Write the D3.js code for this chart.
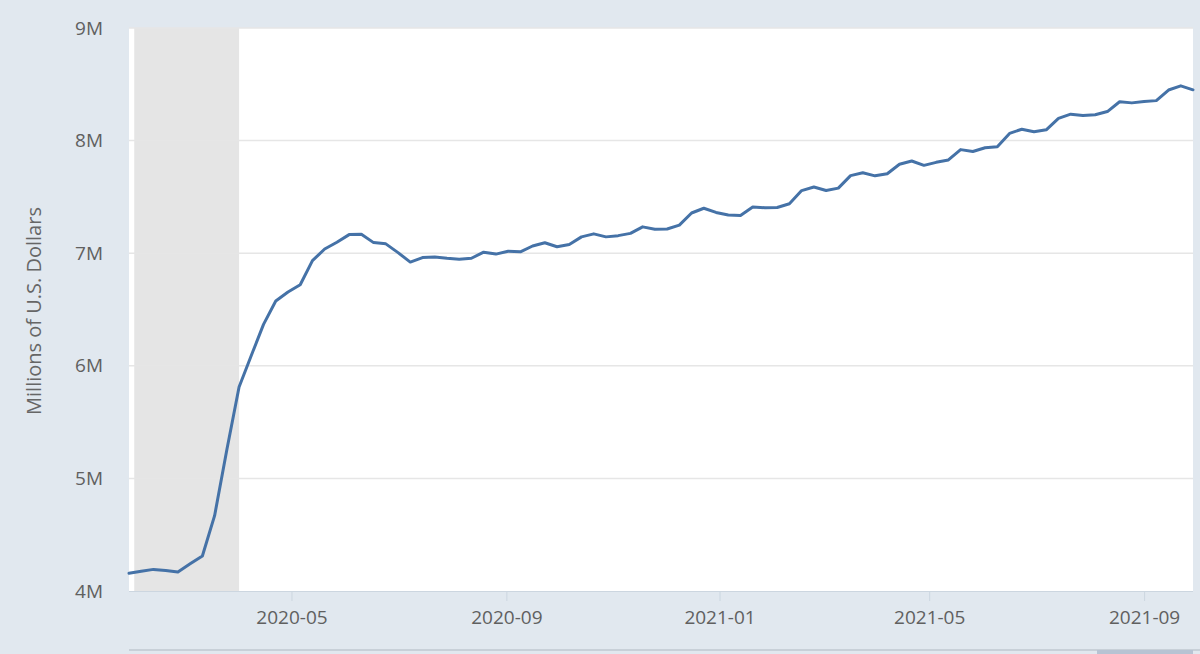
<!DOCTYPE html>
<html>
<head>
<meta charset="utf-8">
<script src="https://cdn.jsdelivr.net/npm/d3@7"></script>
<style>
  html, body { margin: 0; padding: 0; background: #e1e8ef; }
  svg { display: block; }
  text { font-family: "Open Sans", "Noto Sans", sans-serif; }
</style>
</head>
<body>
<svg id="chart" width="1200" height="654"></svg>
<script>
// Weekly dates (Wednesdays) and values, millions of U.S. dollars
const startDate = "2020-01-29";
const values = [
  4158000, 4176000, 4192000, 4183000, 4168000, 4241000, 4311000, 4669000, 5254000, 5811000,
  6092000, 6368000, 6575000, 6655000, 6720000, 6934000, 7037000, 7097000, 7165000, 7169000,
  7094000, 7083000, 7005000, 6921000, 6961000, 6967000, 6955000, 6947000, 6955000, 7009000,
  6992000, 7017000, 7012000, 7064000, 7093000, 7057000, 7078000, 7145000, 7172000, 7145000,
  7156000, 7176000, 7234000, 7213000, 7215000, 7249000, 7357000, 7399000, 7362000, 7339000,
  7335000, 7410000, 7404000, 7406000, 7439000, 7556000, 7588000, 7557000, 7578000, 7689000,
  7714000, 7687000, 7706000, 7790000, 7819000, 7780000, 7807000, 7828000, 7920000, 7903000,
  7936000, 7946000, 8064000, 8101000, 8078000, 8096000, 8198000, 8235000, 8223000, 8229000,
  8258000, 8345000, 8335000, 8348000, 8355000, 8449000, 8486000, 8451000
];
const recessionStart = "2020-02-01";
const recessionEnd = "2020-04-01";
const yTicks = [4000000, 5000000, 6000000, 7000000, 8000000, 9000000];
const xTickLabels = ["2020-05", "2020-09", "2021-01", "2021-05", "2021-09"];
const yTitle = "Millions of U.S. Dollars";

const parse = d3.utcParse("%Y-%m-%d");
const parseMonth = d3.utcParse("%Y-%m");
const t0 = parse(startDate);
const data = values.map((v, i) => ({ date: d3.utcDay.offset(t0, i * 7), value: v }));

const svg = d3.select("#chart");
const pLeft = 129, pRight = 1193, pTop = 28, pBottom = 591;

const x = d3.scaleUtc()
  .domain([data[0].date, data[data.length - 1].date])
  .range([pLeft, pRight]);
const y = d3.scaleLinear().domain([4000000, 9000000]).range([pBottom, pTop]);

// plot background
svg.append("rect").attr("x", pLeft).attr("y", pTop)
  .attr("width", pRight - pLeft).attr("height", pBottom - pTop).attr("fill", "#ffffff");

// recession band
svg.append("rect")
  .attr("x", x(parse(recessionStart))).attr("y", pTop)
  .attr("width", x(parse(recessionEnd)) - x(parse(recessionStart)))
  .attr("height", pBottom - pTop).attr("fill", "#e5e5e5");

// gridlines
svg.append("g").selectAll("line").data(yTicks.slice(1)).join("line")
  .attr("x1", pLeft).attr("x2", pRight)
  .attr("y1", d => y(d)).attr("y2", d => y(d))
  .attr("stroke", "#e6e6e6").attr("stroke-width", 1.5);

// y axis labels
const yAxis = d3.axisLeft(y).tickValues(yTicks)
  .tickFormat(d => d3.format("d")(d / 1000000) + "M").tickSize(0).tickPadding(26);
const gy = svg.append("g").attr("transform", `translate(${pLeft},0)`).call(yAxis);
gy.select(".domain").remove();
gy.selectAll("text").attr("font-size", 19).attr("fill", "#606060")
  .attr("font-family", "'Open Sans', sans-serif");

// x axis
const xAxis = d3.axisBottom(x).tickValues(xTickLabels.map(parseMonth))
  .tickFormat(d3.utcFormat("%Y-%m")).tickSize(10).tickPadding(10);
const gx = svg.append("g").attr("transform", `translate(0,${pBottom})`).call(xAxis);
gx.select(".domain").attr("stroke", "#ccd6e0").attr("d", `M${pLeft},0.5H${pRight}`);
gx.selectAll(".tick line").attr("stroke", "#ccd6e0");
gx.selectAll("text").attr("font-size", 19).attr("fill", "#606060")
  .attr("font-family", "'Open Sans', sans-serif");

// y title
svg.append("text")
  .attr("transform", "translate(41,311) rotate(-90)")
  .attr("text-anchor", "middle")
  .attr("font-size", 20).attr("fill", "#666666")
  .text(yTitle);

// line
const line = d3.line().x(d => x(d.date)).y(d => y(d.value));
svg.append("path").datum(data)
  .attr("d", line).attr("fill", "none")
  .attr("stroke", "#4572a7").attr("stroke-width", 3)
  .attr("stroke-linejoin", "round").attr("stroke-linecap", "round");

// navigator strip at bottom
svg.append("line").attr("x1", pLeft).attr("x2", 1200).attr("y1", 650).attr("y2", 650)
  .attr("stroke", "#c8d0d8").attr("stroke-width", 2);
svg.append("rect").attr("x", 1097).attr("y", 650).attr("width", 96).attr("height", 4)
  .attr("fill", "#b7c3d3");
</script>
</body>
</html>
